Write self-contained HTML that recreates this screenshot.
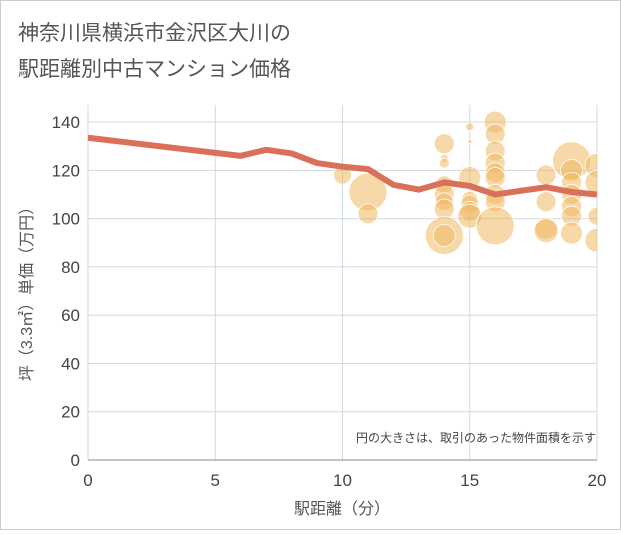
<!DOCTYPE html>
<html><head><meta charset="utf-8"><style>
body{margin:0;background:#fff;}
svg text{font-family:"Liberation Sans","Noto Sans CJK JP",sans-serif;}
</style></head><body>
<svg width="621" height="530" xmlns="http://www.w3.org/2000/svg">
<rect x="0.5" y="0.5" width="620" height="529" fill="#fff" stroke="#ccc"/>
<text x="18" y="40" font-size="21" fill="#555">神奈川県横浜市金沢区大川の</text>
<text x="18" y="76" font-size="21" fill="#555">駅距離別中古マンション価格</text>
<defs><clipPath id="pc"><rect x="88" y="105" width="509" height="356"/></clipPath></defs>
<g id="grid"></g>
<g id="bubbles" clip-path="url(#pc)"></g>
<path id="line" fill="none" stroke="#d9705a" stroke-width="6" stroke-linejoin="round"/>
<g id="axes"></g>
<text x="596" y="442" font-size="12" fill="#444" text-anchor="end">円の大きさは、取引のあった物件面積を示す</text>
<text x="342" y="514" font-size="16" fill="#555" text-anchor="middle">駅距離（分）</text>
<text transform="translate(32,290) rotate(-90)" font-size="16" fill="#555" text-anchor="middle">坪（3.3㎡）単価（万円）</text>
</svg>
<script>
const xTicks=[0,5,10,15,20];
const yTicks=[0,20,40,60,80,100,120,140];
const lineX=[0,6,7,8,9,10,11,12,13,14,15,16,17,18,19,20];
const lineY=[133.5,126,128.5,127,123,121.5,120.5,114,112,115,113.5,110,111.5,113,111,110];
const bubX=[10,11,11,14,14,14,14,14,14,14,14,14,15,15,15,15,15,15,15,16,16,16,16,16,16,16,16,16,18,18,18,18,19,19,19,19,19,19,19,20,20,20,20];
const bubY=[118,111,102,131,125,123,114,110,107,104,93,93,138,132,117,108,106,103,101,140,135,128,123,119,117,110,107,97,118,107,96,95,124,120,115,110,105,101,94,122,115,101,91];
const bubR=[9,19,10,10,4,5,9,10,9,10,19,11,4,2,11,8,9,10,12,11,10,10,10,10,10,10,10,19,10,10,11,12,19,11,10,10,10,10,11,12,12,9,12];
const X=v=>88+v*25.45, Y=v=>460-v*2.414;
const NS='http://www.w3.org/2000/svg';
const grid=document.getElementById('grid'),axes=document.getElementById('axes'),bub=document.getElementById('bubbles');
function mk(t,a,p){const e=document.createElementNS(NS,t);for(const k in a)e.setAttribute(k,a[k]);p.appendChild(e);return e;}
xTicks.forEach(v=>{
 const l=mk('line',{x1:X(v),x2:X(v),y1:105,y2:460,stroke:'#d0d8e0','stroke-width':1},grid);
 
 
 const t=mk('text',{x:X(v),y:486,'font-size':17,fill:'#444','text-anchor':'middle'},axes);t.textContent=v;
 
 
});
yTicks.forEach(v=>{
 const l=mk('line',{x1:88,x2:597,y1:Y(v),y2:Y(v),stroke:'#d0d8e0','stroke-width':1},grid);
 
 
 const t=mk('text',{x:80,y:Y(v)+6,'font-size':17,fill:'#444','text-anchor':'end'},axes);t.textContent=v;
 
 
});
const ax=mk('line',{x1:88,x2:597,y1:460,y2:460,stroke:'#888','stroke-width':1},axes);


bubX.forEach((v,i)=>{
 const c=mk('circle',{cx:X(v),cy:Y(bubY[i]),r:bubR[i],fill:'#f0b860','fill-opacity':0.55,stroke:'#fff','stroke-width':0.8},bub);
 
 
});
document.getElementById('line').setAttribute('d',lineX.map((v,i)=>(i?'L':'M')+X(v)+','+Y(lineY[i])).join(''));
</script>
</body></html>
